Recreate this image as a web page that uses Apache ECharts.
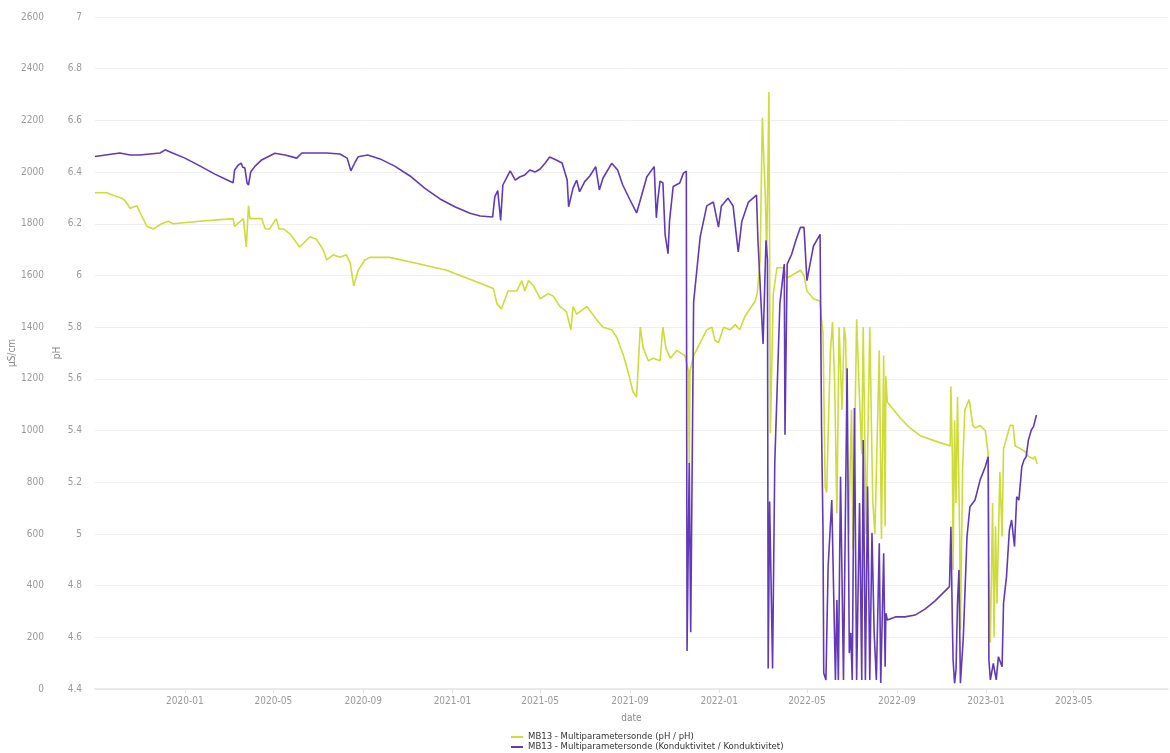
<!DOCTYPE html>
<html>
<head>
<meta charset="utf-8">
<title>MB13 – Multiparametersonde</title>
<script src="https://cdn.jsdelivr.net/npm/echarts@6/dist/echarts.min.js"></script>
<style>
  html, body { margin: 0; padding: 0; background: #fff; }
  #chart { width: 1170px; height: 753px; }
</style>
</head>
<body>
<div id="chart"></div>
<script>
// Month labels shown along the date axis
const xTickLabels = ['2020-01', '2020-05', '2020-09', '2021-01', '2021-05', '2021-09',
  '2022-01', '2022-05', '2022-09', '2023-01', '2023-05'];
const xRange = ['2019-08-31', '2023-09-07'];

// pH series
const phDates = [
  '2019-08-31','2019-09-16','2019-09-25','2019-10-06','2019-10-11','2019-10-18','2019-10-27','2019-11-03','2019-11-10','2019-11-19',
  '2019-11-30','2019-12-09','2019-12-16','2020-01-21','2020-03-07','2020-03-09','2020-03-21','2020-03-25','2020-03-28','2020-03-30',
  '2020-04-15','2020-04-20','2020-04-26','2020-05-05','2020-05-09','2020-05-15','2020-05-24','2020-06-06','2020-06-20','2020-06-29',
  '2020-07-08','2020-07-13','2020-07-22','2020-07-31','2020-08-09','2020-08-14','2020-08-19','2020-08-25','2020-09-03','2020-09-10',
  '2020-10-07','2020-11-08','2020-12-24','2021-02-08','2021-02-26','2021-03-03','2021-03-09','2021-03-18','2021-03-30','2021-04-06',
  '2021-04-10','2021-04-15','2021-04-22','2021-05-01','2021-05-12','2021-05-19','2021-05-28','2021-06-06','2021-06-12','2021-06-15',
  '2021-06-20','2021-07-04','2021-07-17','2021-07-26','2021-08-07','2021-08-14','2021-08-23','2021-08-30','2021-09-05','2021-09-10',
  '2021-09-15','2021-09-19','2021-09-26','2021-10-03','2021-10-12','2021-10-16','2021-10-20','2021-10-26','2021-11-04','2021-11-15',
  '2021-11-20','2021-11-21','2021-11-22','2021-11-27','2021-12-06','2021-12-15','2021-12-22','2021-12-26','2021-12-31','2022-01-07',
  '2022-01-16','2022-01-23','2022-01-29','2022-02-05','2022-02-12','2022-02-19','2022-02-22','2022-02-26','2022-03-01','2022-03-05',
  '2022-03-07','2022-03-10','2022-03-12','2022-03-16','2022-03-21','2022-03-30','2022-04-03','2022-04-10','2022-04-22','2022-04-27',
  '2022-05-01','2022-05-10','2022-05-19','2022-05-21','2022-05-23','2022-05-26','2022-05-28','2022-06-02','2022-06-05','2022-06-08',
  '2022-06-11','2022-06-14','2022-06-18','2022-06-21','2022-06-23','2022-06-27','2022-07-01','2022-07-03','2022-07-08','2022-07-12',
  '2022-07-15','2022-07-17','2022-07-21','2022-07-26','2022-07-30','2022-08-02','2022-08-08','2022-08-11','2022-08-14','2022-08-16',
  '2022-08-17','2022-08-19','2022-09-05','2022-09-19','2022-10-03','2022-10-23','2022-11-13','2022-11-14','2022-11-16','2022-11-17',
  '2022-11-19','2022-11-21','2022-11-23','2022-11-26','2022-11-27','2022-11-30','2022-12-03','2022-12-09','2022-12-14','2022-12-17',
  '2022-12-24','2022-12-31','2023-01-04','2023-01-05','2023-01-07','2023-01-10','2023-01-12','2023-01-14','2023-01-16','2023-01-20',
  '2023-01-23','2023-01-25','2023-01-30','2023-02-03','2023-02-07','2023-02-10','2023-02-17','2023-02-23','2023-02-28','2023-03-07',
  '2023-03-09','2023-03-12'
];
const phValues = [
  6.32, 6.32, 6.31, 6.30, 6.29, 6.26, 6.27, 6.23, 6.19, 6.18,
  6.20, 6.21, 6.20, 6.21, 6.22, 6.19, 6.22, 6.11, 6.27, 6.22,
  6.22, 6.18, 6.18, 6.22, 6.18, 6.18, 6.16, 6.11, 6.15, 6.14,
  6.10, 6.06, 6.08, 6.07, 6.08, 6.05, 5.96, 6.02, 6.06, 6.07,
  6.07, 6.05, 6.02, 5.97, 5.95, 5.89, 5.87, 5.94, 5.94, 5.98,
  5.94, 5.98, 5.96, 5.91, 5.93, 5.92, 5.88, 5.86, 5.79, 5.88,
  5.85, 5.88, 5.83, 5.80, 5.79, 5.76, 5.69, 5.62, 5.55, 5.53,
  5.80, 5.72, 5.67, 5.68, 5.67, 5.80, 5.72, 5.68, 5.71, 5.69,
  5.63, 5.27, 5.63, 5.69, 5.74, 5.79, 5.80, 5.75, 5.74, 5.80,
  5.79, 5.81, 5.79, 5.84, 5.87, 5.90, 5.93, 6.06, 6.61, 6.31,
  6.08, 6.71, 5.39, 5.93, 6.03, 6.03, 5.99, 6.00, 6.02, 6.00,
  5.94, 5.91, 5.90, 5.83, 5.78, 5.18, 5.16, 5.70, 5.82, 5.58,
  5.08, 5.80, 5.48, 5.80, 5.75, 5.00, 5.48, 4.94, 5.83, 5.52,
  5.31, 5.80, 5.00, 5.80, 5.13, 5.00, 5.71, 4.98, 5.69, 5.03,
  5.61, 5.51, 5.45, 5.41, 5.38, 5.36, 5.34, 5.57, 5.30, 4.86,
  5.44, 5.12, 5.53, 4.99, 4.63, 5.25, 5.48, 5.52, 5.42, 5.41,
  5.42, 5.40, 5.31, 4.86, 4.58, 5.12, 4.60, 5.03, 4.73, 5.24,
  4.99, 5.33, 5.38, 5.42, 5.42, 5.34, 5.33, 5.32, 5.30, 5.29,
  5.30, 5.27
];

// Conductivity series (µS/cm)
const condDates = [
  '2019-08-31','2019-09-24','2019-10-04','2019-10-18','2019-10-31','2019-11-14','2019-11-28','2019-12-05','2019-12-11','2020-01-01',
  '2020-01-22','2020-02-11','2020-02-25','2020-03-07','2020-03-09','2020-03-14','2020-03-18','2020-03-20','2020-03-23','2020-03-26',
  '2020-03-28','2020-03-31','2020-04-06','2020-04-15','2020-05-03','2020-05-17','2020-06-02','2020-06-09','2020-06-27','2020-07-13',
  '2020-07-31','2020-08-10','2020-08-15','2020-08-21','2020-08-25','2020-09-07','2020-09-24','2020-10-14','2020-11-04','2020-11-24',
  '2020-12-15','2021-01-05','2021-01-25','2021-02-08','2021-02-25','2021-02-28','2021-03-04','2021-03-08','2021-03-11','2021-03-21',
  '2021-03-28','2021-04-03','2021-04-10','2021-04-17','2021-04-24','2021-05-01','2021-05-08','2021-05-14','2021-05-23','2021-05-31',
  '2021-06-07','2021-06-09','2021-06-15','2021-06-20','2021-06-24','2021-07-01','2021-07-08','2021-07-16','2021-07-21','2021-07-26',
  '2021-08-07','2021-08-15','2021-08-22','2021-09-01','2021-09-10','2021-09-17','2021-09-24','2021-10-04','2021-10-07','2021-10-09',
  '2021-10-12','2021-10-16','2021-10-19','2021-10-23','2021-10-25','2021-10-30','2021-11-08','2021-11-13','2021-11-17','2021-11-18',
  '2021-11-21','2021-11-23','2021-11-27','2021-12-06','2021-12-15','2021-12-24','2021-12-31','2022-01-04','2022-01-13','2022-01-20',
  '2022-01-27','2022-02-01','2022-02-10','2022-02-21','2022-02-23','2022-03-02','2022-03-06','2022-03-08','2022-03-09','2022-03-11',
  '2022-03-15','2022-03-18','2022-03-25','2022-03-31','2022-04-01','2022-04-04','2022-04-10','2022-04-16','2022-04-22','2022-04-27',
  '2022-05-01','2022-05-05','2022-05-10','2022-05-19','2022-05-21','2022-05-23','2022-05-24','2022-05-27','2022-05-30','2022-06-04',
  '2022-06-09','2022-06-11','2022-06-13','2022-06-16','2022-06-20','2022-06-25','2022-06-28','2022-06-30','2022-07-02','2022-07-05',
  '2022-07-08','2022-07-12','2022-07-15','2022-07-17','2022-07-20','2022-07-23','2022-07-26','2022-07-29','2022-08-01','2022-08-04',
  '2022-08-08','2022-08-10','2022-08-14','2022-08-16','2022-08-17','2022-08-19','2022-08-30','2022-09-12','2022-09-26','2022-10-10',
  '2022-10-23','2022-11-02','2022-11-12','2022-11-14','2022-11-16','2022-11-17','2022-11-19','2022-11-21','2022-11-23','2022-11-25',
  '2022-11-27','2022-11-29','2022-12-01','2022-12-06','2022-12-10','2022-12-17','2022-12-24','2022-12-31','2023-01-04','2023-01-05',
  '2023-01-07','2023-01-11','2023-01-15','2023-01-18','2023-01-23','2023-01-25','2023-01-29','2023-02-02','2023-02-05','2023-02-09',
  '2023-02-12','2023-02-15','2023-02-19','2023-02-22','2023-02-25','2023-02-28','2023-03-04','2023-03-07','2023-03-11'
];
const condValues = [
  2060, 2070, 2074, 2066, 2066, 2070, 2074, 2086, 2079, 2054,
  2023, 1992, 1973, 1959, 2008, 2027, 2035, 2020, 2016, 1958,
  1950, 2000, 2023, 2047, 2073, 2066, 2054, 2074, 2074, 2074,
  2070, 2054, 2005, 2039, 2059, 2066, 2051, 2023, 1985, 1938,
  1896, 1865, 1841, 1830, 1826, 1905, 1928, 1813, 1950, 2005,
  1969, 1981, 1989, 2008, 2000, 2012, 2035, 2058, 2047, 2035,
  1969, 1866, 1938, 1969, 1924, 1963, 1985, 2021, 1931, 1977,
  2034, 2008, 1950, 1892, 1842, 1911, 1982, 2021, 1823, 1892,
  1965, 1958, 1758, 1684, 1810, 1944, 1958, 1996, 2003, 147,
  874, 220, 1498, 1750, 1869, 1884, 1787, 1869, 1899, 1869,
  1691, 1810, 1884, 1911, 1736, 1335, 1736, 1661, 79, 725,
  79, 874, 1490, 1644, 984, 1644, 1681, 1737, 1786, 1786,
  1580, 1640, 1714, 1759, 1015, 615, 62, 35, 473, 731,
  35, 344, 35, 821, 35, 1241, 139, 217, 35, 1087,
  35, 720, 35, 963, 35, 783, 35, 604, 217, 35,
  564, 23, 525, 86, 293, 267, 279, 279, 286, 310,
  340, 368, 396, 628, 254, 112, 22, 74, 332, 460,
  22, 22, 202, 589, 705, 731, 809, 860, 899, 112,
  35, 99, 35, 125, 86, 332, 434, 615, 654, 551,
  744, 731, 860, 886, 899, 963, 1002, 1015, 1060
];

const seriesNames = [
  'MB13 - Multiparametersonde (pH / pH)',
  'MB13 - Multiparametersonde (Konduktivitet / Konduktivitet)'
];

const FONT = "'Liberation Sans Narrow', 'DejaVu Sans Condensed', 'Roboto', sans-serif";

// Dates become timestamps on a numeric axis so that the month ticks can be placed exactly
const toTime = s => new Date(s + 'T00:00:00Z').getTime();
const tickTimes = xTickLabels.map(s => toTime(s + '-01'));
const zip = (dates, vals) => dates.map((d, i) => [toTime(d), vals[i]]);
const pad = n => (n < 10 ? '0' : '') + n;
const monthLabel = v => {
  const d = new Date(v);
  return d.getUTCFullYear() + '-' + pad(d.getUTCMonth() + 1);
};
const plainNumber = v => String(+v.toFixed(4));

const axisNameStyle = { fontFamily: FONT, fontSize: 10, color: '#888' };
const axisLabelStyle = { fontFamily: FONT, fontSize: 10, color: '#999' };

const chart = echarts.init(document.getElementById('chart'), null, { renderer: 'canvas' });
chart.setOption({
  animation: false,
  backgroundColor: '#ffffff',
  grid: { left: 95, right: 2, top: 17, bottom: 64, outerBoundsMode: 'none' },
  legend: {
    orient: 'vertical',
    left: 511,
    top: 732,
    height: 40,
    padding: 0,
    itemWidth: 12,
    itemHeight: 2,
    itemGap: 0,
    icon: 'rect',
    textStyle: { fontFamily: FONT, fontSize: 9.5, color: '#333', lineHeight: 10 },
    data: seriesNames
  },
  xAxis: {
    type: 'value',
    min: toTime(xRange[0]),
    max: toTime(xRange[1]),
    name: 'date',
    nameLocation: 'middle',
    nameGap: 24,
    nameMoveOverlap: false,
    nameTextStyle: axisNameStyle,
    axisLine: { lineStyle: { color: '#e3e3e3', width: 1.5 } },
    axisTick: { show: true, customValues: tickTimes, length: 4, lineStyle: { color: '#e3e3e3' } },
    axisLabel: Object.assign({ customValues: tickTimes, margin: 7, formatter: monthLabel }, axisLabelStyle),
    splitLine: { show: false }
  },
  yAxis: [
    {
      type: 'value',
      name: 'µS/cm',
      nameLocation: 'middle',
      nameGap: 40,
      nameMoveOverlap: false,
      nameTextStyle: axisNameStyle,
      position: 'left',
      offset: 38,
      min: 0,
      max: 2600,
      interval: 200,
      axisLine: { show: false },
      axisTick: { show: false },
      axisLabel: Object.assign({ margin: 13, formatter: plainNumber }, axisLabelStyle),
      splitLine: { show: false }
    },
    {
      type: 'value',
      name: 'pH',
      nameLocation: 'middle',
      nameGap: 33,
      nameMoveOverlap: false,
      nameTextStyle: axisNameStyle,
      position: 'left',
      offset: 0,
      min: 4.4,
      max: 7,
      interval: 0.2,
      axisLine: { show: false },
      axisTick: { show: false },
      axisLabel: Object.assign({ margin: 13, formatter: plainNumber }, axisLabelStyle),
      splitLine: { show: true, lineStyle: { color: '#efefef', width: 1 } }
    }
  ],
  series: [
    {
      name: seriesNames[0],
      type: 'line',
      yAxisIndex: 1,
      showSymbol: false,
      data: zip(phDates, phValues),
      itemStyle: { color: '#cddc39' },
      lineStyle: { color: '#cddc39', width: 1.6 }
    },
    {
      name: seriesNames[1],
      type: 'line',
      yAxisIndex: 0,
      showSymbol: false,
      data: zip(condDates, condValues),
      itemStyle: { color: '#6239b8' },
      lineStyle: { color: '#6239b8', width: 1.6 }
    }
  ]
});
</script>
</body>
</html>
